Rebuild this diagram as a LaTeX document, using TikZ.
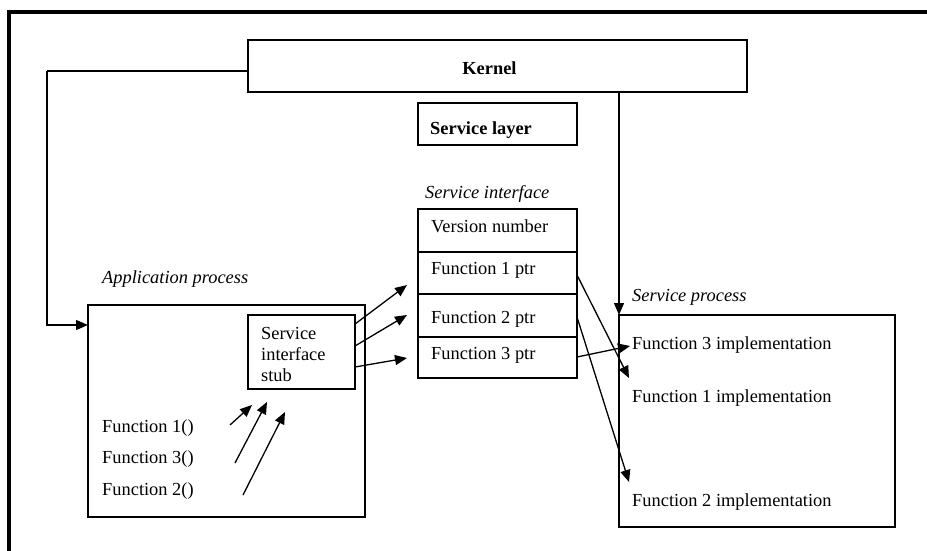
\documentclass[tikz,border=0pt]{standalone}
\usepackage{fontspec}
\setmainfont{Liberation Serif}
\usetikzlibrary{arrows.meta}
\begin{document}
\begin{tikzpicture}[x=1pt,y=-1pt,
  box/.style={draw, line width=1.6pt, inner sep=0pt, outer sep=0pt},
  lbl/.style={inner sep=0pt, anchor=base west, font=\fontsize{18.4}{21}\selectfont},
  conn/.style={line width=1.3pt},
  arr/.style={line width=1.3pt, -{Triangle[length=12pt,width=10pt]}}]
\useasboundingbox (0,0) rectangle (927,551);

% page frame (top and left edges)
\draw[line width=3.2pt] (927,12) -- (9,12) -- (9,551);

% kernel and service layer
\node[box, minimum width=499pt, minimum height=52pt] (kernel) at (497.5,66) {};
\node[lbl, anchor=base, font=\fontsize{18.4}{21}\selectfont\bfseries] (kerneltxt) at (489.5,75) {Kernel};
\node[box, minimum width=159pt, minimum height=42pt] (layer) at (497.5,124) {};
\node[lbl, font=\fontsize{18.4}{21}\selectfont\bfseries] (layertxt) at (430,135) {Service layer};

% service interface table
\node[lbl, font=\fontsize{18.4}{21}\selectfont\itshape] (ifcap) at (425,198) {Service interface};
\node[box, minimum width=159pt, minimum height=43pt] (rowv) at (497.5,230.5) {};
\node[box, minimum width=159pt, minimum height=42pt] (row1) at (497.5,273) {};
\node[box, minimum width=159pt, minimum height=43pt] (row2) at (497.5,315.5) {};
\node[box, minimum width=159pt, minimum height=41pt] (row3) at (497.5,357.5) {};
\node[lbl] (rowvtxt) at (431,232) {Version number};
\node[lbl] (row1txt) at (431,274) {Function 1 ptr};
\node[lbl] (row2txt) at (431,323) {Function 2 ptr};
\node[lbl] (row3txt) at (431,359) {Function 3 ptr};

% application process
\node[lbl, font=\fontsize{18.4}{21}\selectfont\itshape] (appcap) at (102,283) {Application process};
\node[box, minimum width=277pt, minimum height=212pt] (app) at (226.5,411) {};
\node[box, minimum width=107pt, minimum height=74pt] (stub) at (301.5,352) {};
\node[lbl] (stub1) at (261,339) {Service};
\node[lbl] (stub2) at (261,360) {interface};
\node[lbl] (stub3) at (261,381) {stub};
\node[lbl] (call1) at (102,432) {Function 1()};
\node[lbl] (call3) at (102,463) {Function 3()};
\node[lbl] (call2) at (102,495) {Function 2()};

% service process
\node[lbl, font=\fontsize{18.4}{21}\selectfont\itshape] (svccap) at (632,301) {Service process};
\node[box, minimum width=276pt, minimum height=212pt] (svc) at (757,421) {};
\node[lbl] (impl3) at (632,349) {Function 3 implementation};
\node[lbl] (impl1) at (632,402) {Function 1 implementation};
\node[lbl] (impl2) at (632,506) {Function 2 implementation};

% kernel links
\coordinate (kbend) at (47,71);
\coordinate (appin) at (88,325);
\draw[conn] ([yshift=-5pt]kernel.west) -- (kbend);
\draw[arr] (kbend) |- (appin);
\draw[arr] (kernel.south -| svc.north west) -- (svc.north west);

% calls inside the application
\coordinate (c1a) at (230,425); \coordinate (c1b) at (252,405);
\coordinate (c3a) at (235,463); \coordinate (c3b) at (267,402);
\coordinate (c2a) at (243,495); \coordinate (c2b) at (285,412);
\draw[arr] (c1a) -- (c1b);
\draw[arr] (c3a) -- (c3b);
\draw[arr] (c2a) -- (c2b);

% stub to interface table
\coordinate (s1a) at (355,324); \coordinate (s1b) at (407,285);
\coordinate (s2a) at (355,346); \coordinate (s2b) at (407,315);
\coordinate (s3a) at (355,367); \coordinate (s3b) at (407,358);
\draw[arr] (s1a) -- (s1b);
\draw[arr] (s2a) -- (s2b);
\draw[arr] (s3a) -- (s3b);

% function pointers to implementations
\coordinate (p1a) at (577,275); \coordinate (p1b) at (629,378);
\coordinate (p2a) at (577,317); \coordinate (p2b) at (629,482);
\coordinate (p3a) at (577,357); \coordinate (p3b) at (630,346);
\draw[arr] (p1a) -- (p1b);
\draw[arr] (p2a) -- (p2b);
\draw[arr] (p3a) -- (p3b);
\end{tikzpicture}
\end{document}
